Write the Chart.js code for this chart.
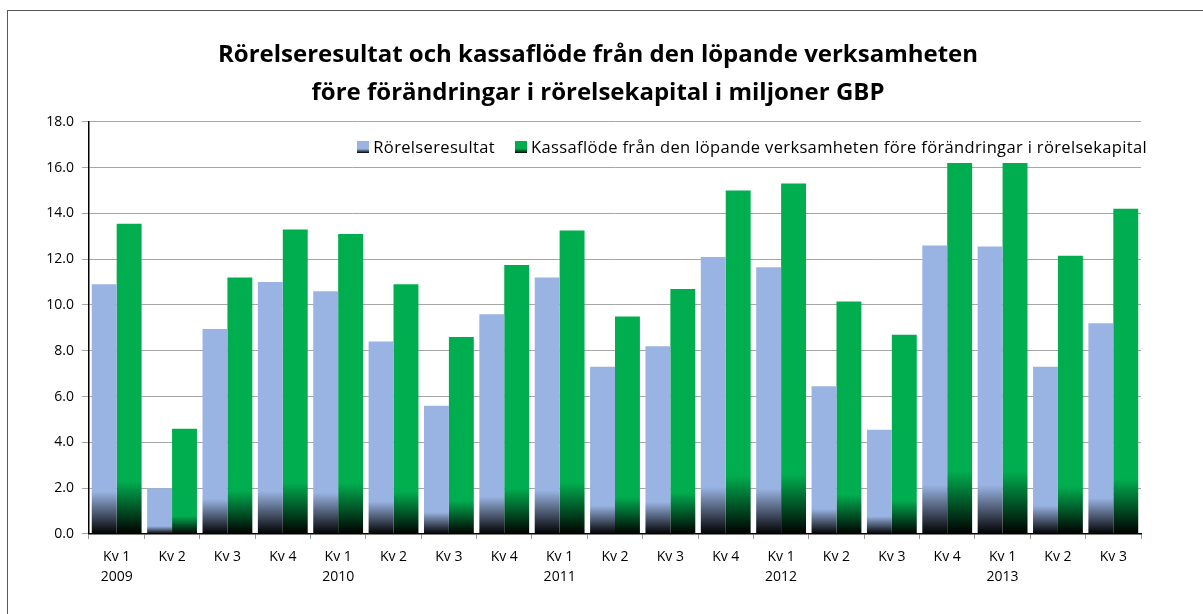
<!DOCTYPE html>
<html>
<head>
<meta charset="utf-8">
<script src="https://cdn.jsdelivr.net/npm/chart.js@4/dist/chart.umd.min.js"></script>
<style>
    html, body { margin: 0; padding: 0; background: #fff; overflow: hidden; }
    #wrap { position: relative; width: 1203px; height: 614px; }
    #frame {
        position: absolute; left: 7px; top: 10px; width: 1400px; height: 800px;
        border-top: 1px solid #595959; border-left: 1px solid #595959;
        pointer-events: none;
    }
    #legend {
        position: absolute; right: 56px; top: 135px;
        display: flex; align-items: center;
        font-family: "Open Sans", sans-serif; font-size: 16.5px; letter-spacing: 0.35px; color: #000;
        white-space: nowrap;
    }
    #legend .item { display: flex; align-items: center; margin-left: 20px; }
    #legend .box { width: 12px; height: 12px; margin-right: 4px; }
</style>
</head>
<body>
<div id="wrap">
    <canvas id="chart" width="1203" height="614"></canvas>
    <div id="frame"></div>
    <div id="legend"></div>
</div>
<script>
const titleLines = [
    'Rörelseresultat och kassaflöde från den löpande verksamheten',
    'före förändringar i rörelsekapital i miljoner GBP'
];
const categories = [
    ['Kv 1', '2009'], 'Kv 2', 'Kv 3', 'Kv 4',
    ['Kv 1', '2010'], 'Kv 2', 'Kv 3', 'Kv 4',
    ['Kv 1', '2011'], 'Kv 2', 'Kv 3', 'Kv 4',
    ['Kv 1', '2012'], 'Kv 2', 'Kv 3', 'Kv 4',
    ['Kv 1', '2013'], 'Kv 2', 'Kv 3'
];
const seriesNames = [
    'Rörelseresultat',
    'Kassaflöde från den löpande verksamheten före förändringar i rörelsekapital'
];
const operatingResult = [10.9, 2.0, 8.95, 11.0, 10.6, 8.4, 5.6, 9.6, 11.2, 7.3, 8.2, 12.1, 11.65, 6.45, 4.55, 12.6, 12.55, 7.3, 9.2];
const cashFlow = [13.55, 4.6, 11.2, 13.3, 13.1, 10.9, 8.6, 11.75, 13.25, 9.5, 10.7, 15.0, 15.3, 10.15, 8.7, 16.2, 16.2, 12.15, 14.2];
const yTicks = { min: 0, max: 18, step: 2 };

const colors = ['#99b4e3', '#00ae50'];
const FONT = '"Open Sans"';

// each bar fades to black over its lowest part
function barFill(base) {
    return function(ctx) {
        const chart = ctx.chart;
        const y = chart.scales.y;
        if (ctx.type !== 'data' || !chart.chartArea || !y) return base;
        const top = y.getPixelForValue(ctx.raw);
        const bottom = y.getPixelForValue(0);
        if (!isFinite(top) || bottom - top < 1) return base;
        const g = chart.ctx.createLinearGradient(0, top, 0, bottom);
        g.addColorStop(0, base);
        g.addColorStop(0.83, base);
        g.addColorStop(1, '#000000');
        return g;
    };
}

const chart = new Chart(document.getElementById('chart').getContext('2d'), {
    type: 'bar',
    data: {
        labels: categories,
        datasets: [{
            label: seriesNames[0],
            data: operatingResult,
            backgroundColor: barFill(colors[0]),
            categoryPercentage: 0.9,
            barPercentage: 1.0
        }, {
            label: seriesNames[1],
            data: cashFlow,
            backgroundColor: barFill(colors[1]),
            categoryPercentage: 0.9,
            barPercentage: 1.0
        }]
    },
    options: {
        responsive: false,
        animation: false,
        devicePixelRatio: 1,
        layout: {
            padding: { top: 36, left: 10, right: 17, bottom: 19 }
        },
        plugins: {
            legend: { display: false },
            tooltip: { enabled: false },
            title: {
                display: true,
                text: titleLines,
                color: '#000',
                font: { family: FONT, size: 24, weight: 'bold', lineHeight: 1.6 },
                padding: { top: 0, bottom: 9 }
            }
        },
        scales: {
            x: {
                grid: {
                    offset: true,
                    drawOnChartArea: false,
                    drawTicks: true,
                    tickLength: 5,
                    color: '#9a9a9a'
                },
                border: { color: '#000', width: 1.5 },
                ticks: {
                    color: '#000',
                    padding: 8,
                    maxRotation: 0,
                    autoSkip: false,
                    font: { family: FONT, size: 14, lineHeight: 1.43 }
                }
            },
            y: {
                min: yTicks.min,
                max: yTicks.max,
                afterFit: function(scale) { scale.width = 79; },
                grid: {
                    color: '#a6a6a6',
                    drawTicks: true,
                    tickLength: 7
                },
                border: { color: '#000', width: 1.5 },
                ticks: {
                    stepSize: yTicks.step,
                    color: '#000',
                    padding: 8,
                    font: { family: FONT, size: 14 },
                    callback: function(v) { return Number(v).toFixed(1); }
                }
            },
            // empty right-hand space so the plot ends where the original does
            yRight: {
                type: 'linear',
                position: 'right',
                display: true,
                grid: { display: false },
                border: { display: false },
                ticks: { display: false },
                afterFit: function(scale) { scale.width = 45; }
            }
        }
    }
});

// legend as html, read from the datasets
const legend = document.getElementById('legend');
chart.data.datasets.forEach(function(ds, i) {
    const item = document.createElement('div');
    item.className = 'item';
    const box = document.createElement('span');
    box.className = 'box';
    box.style.background = 'linear-gradient(to bottom, ' + colors[i] + ' 65%, #000 100%)';
    const txt = document.createElement('span');
    txt.textContent = ds.label;
    item.appendChild(box);
    item.appendChild(txt);
    legend.appendChild(item);
});
</script>
</body>
</html>
